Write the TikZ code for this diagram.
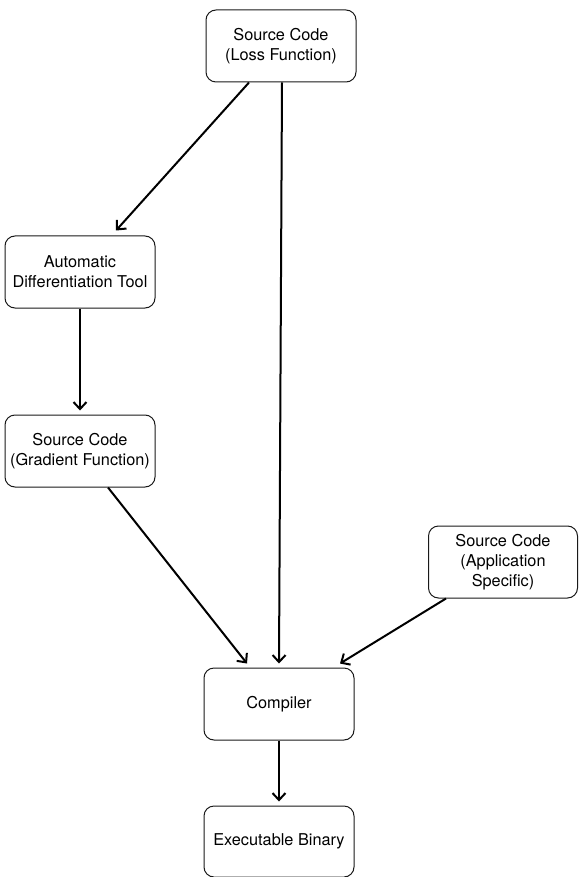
\documentclass[tikz,border=0pt]{standalone}
\usepackage{fontspec}
\setmainfont{TeX Gyre Heros}
\usetikzlibrary{arrows.meta,calc}
\begin{document}
\begin{tikzpicture}[x=1pt,y=-1pt,
  box/.style={draw=black!90,line width=1pt,rounded corners=10pt,minimum width=150pt,minimum height=72pt,inner sep=0pt,align=center,font=\fontsize{16.3}{20}\selectfont},
  arr/.style={line width=2pt,-{Straight Barb[length=7pt,width=13pt,line width=2pt]}}]
\useasboundingbox (0,0) rectangle (578,877);
\node[box] (loss) at (281,46) {Source Code\\(Loss Function)};
\node[box] (autodiff) at (80,272) {Automatic\\Differentiation Tool};
\node[box] (gradient) at (80,451) {Source Code\\(Gradient Function)};
\node[box,minimum width=149pt] (app) at (503,562) {Source Code\\(Application\\Specific)};
\node[box] (compiler) at (279,704) {Compiler};
\node[box,minimum height=71pt] (exec) at (279,841.5) {Executable Binary};
\draw[arr] ([xshift=-32pt]loss.south) -- ([xshift=36pt,yshift=5pt]autodiff.north);
\draw[arr] ([xshift=1pt]loss.south) -- ([yshift=4pt]compiler.north);
\draw[arr] (autodiff.south) -- ([yshift=4pt]gradient.north);
\draw[arr] ([xshift=28pt]gradient.south) -- ([xshift=-32pt,yshift=4pt]compiler.north);
\draw[arr] ([xshift=-57pt]app.south) -- ([xshift=61pt,yshift=4pt]compiler.north);
\draw[arr] (compiler.south) -- ([yshift=4pt]exec.north);
\end{tikzpicture}
\end{document}
